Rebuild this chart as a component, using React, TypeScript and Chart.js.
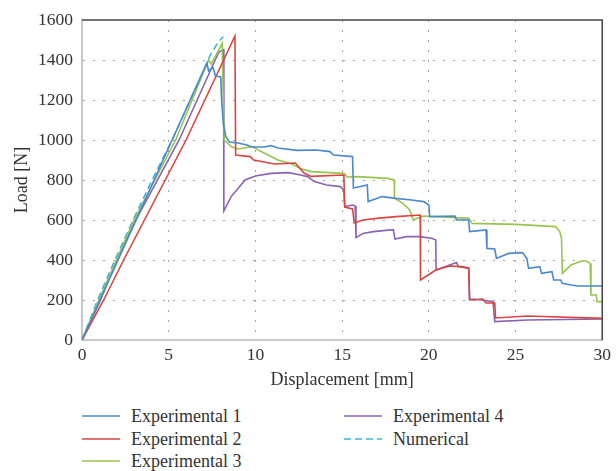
import React, { useEffect, useRef } from "react";
import { Chart, registerables } from "chart.js";

Chart.register(...registerables);

const FONT = "'Liberation Serif', 'Times New Roman', serif";

const seriesNames = ["Experimental 1", "Experimental 2", "Experimental 3", "Experimental 4", "Numerical"];
const seriesColors = ["#4a89cc", "#d9463f", "#98c44f", "#8b63b3", "#3db5d8"];
const xTicks = [0, 5, 10, 15, 20, 25, 30];
const yTicks = [0, 200, 400, 600, 800, 1000, 1200, 1400, 1600];
const xTitle = "Displacement [mm]";
const yTitle = "Load [N]";

const exp1Disp = [0, 7.2, 7.3, 7.55, 7.7, 8.0, 8.05, 8.15, 8.3, 8.5, 9.0, 9.5, 9.8, 10.5, 10.9, 11.3, 12.4, 13.5, 14.3, 14.5, 15.6, 15.65, 16.45, 16.5, 17.3, 18.1, 19.0, 19.7, 20.0, 20.05, 21.5, 21.6, 22.3, 22.35, 23.3, 23.35, 23.8, 23.9, 24.6, 25.4, 25.65, 25.75, 26.4, 26.5, 27.1, 27.2, 27.6, 27.7, 28.2, 28.6, 30];
const exp1Load = [0, 1385, 1345, 1362, 1320, 1315, 1200, 1080, 1015, 990, 985, 975, 965, 965, 972, 960, 948, 950, 942, 925, 917, 760, 775, 692, 717, 708, 700, 692, 675, 617, 620, 600, 600, 542, 550, 458, 455, 408, 433, 437, 408, 358, 367, 333, 342, 300, 300, 283, 275, 270, 270];

const exp2Disp = [0, 1.25, 2.4, 3.6, 6.0, 8.82, 8.86, 9.7, 9.9, 10.5, 11.1, 12.3, 12.5, 12.8, 13.2, 15.1, 15.15, 15.6, 15.7, 16.2, 17.0, 18.1, 19.5, 19.52, 20.4, 21.2, 21.9, 22.3, 22.35, 23.1, 23.3, 23.8, 23.85, 25.7, 30];
const exp2Load = [0, 200, 400, 600, 1000, 1520, 925, 917, 900, 890, 880, 885, 865, 835, 818, 825, 665, 655, 585, 600, 608, 617, 625, 300, 350, 370, 367, 360, 200, 205, 185, 185, 110, 120, 108];

const exp3Disp = [0, 1.0, 3.0, 5.4, 7.3, 7.45, 8.08, 8.2, 8.6, 9.0, 9.8, 10.5, 11.3, 12.0, 12.6, 13.2, 15.1, 15.3, 15.9, 17.6, 18.0, 18.02, 18.5, 18.9, 19.1, 19.3, 19.7, 22.3, 22.5, 25.0, 27.3, 27.55, 27.65, 27.7, 28.2, 28.8, 29.1, 29.3, 29.35, 29.65, 29.7, 30];
const exp3Load = [0, 205, 600, 1000, 1400, 1380, 1483, 1000, 967, 955, 967, 935, 900, 883, 858, 842, 833, 815, 817, 808, 800, 710, 683, 650, 600, 608, 620, 608, 583, 578, 567, 542, 508, 333, 375, 395, 395, 383, 225, 225, 192, 192];

const exp4Disp = [0, 1.07, 2.0, 3.1, 5.6, 7.68, 7.9, 8.16, 8.18, 8.6, 9.0, 9.4, 10.0, 10.9, 11.9, 12.6, 13.0, 13.4, 14.1, 14.9, 15.1, 15.15, 15.6, 15.75, 15.8, 16.2, 16.8, 17.95, 18.05, 18.7, 19.5, 20.2, 20.4, 20.42, 21.2, 21.6, 21.7, 22.3, 22.35, 23.1, 23.7, 23.8, 25.7, 30];
const exp4Load = [0, 200, 400, 600, 1000, 1400, 1440, 1452, 645, 717, 758, 800, 820, 833, 837, 825, 817, 792, 775, 767, 750, 667, 675, 670, 512, 533, 542, 552, 505, 517, 517, 508, 500, 350, 375, 387, 367, 358, 205, 200, 192, 92, 100, 105];

const numDisp = [0, 0.9, 1.9, 3.0, 4.1, 5.25, 7.0, 7.4, 7.8, 8.15];
const numLoad = [0, 200, 400, 610, 810, 1010, 1345, 1425, 1482, 1517];

const seriesDisp = [exp1Disp, exp2Disp, exp3Disp, exp4Disp, numDisp];
const seriesLoad = [exp1Load, exp2Load, exp3Load, exp4Load, numLoad];

const framePlugin = {
  id: "frame",
  afterDatasetsDraw(chart: any) {
    const { ctx, chartArea } = chart;
    const { left, top, right, bottom } = chartArea;
    ctx.save();
    ctx.strokeStyle = "#4a4a4a";
    ctx.lineWidth = 1.6;
    ctx.beginPath();
    ctx.moveTo(left, top);
    ctx.lineTo(right, top);
    ctx.lineTo(right, bottom);
    ctx.stroke();
    ctx.restore();
  },
};

export default function App() {
  const ref = useRef<HTMLCanvasElement>(null);

  useEffect(() => {
    const datasets = seriesNames.map((name, i) => ({
      label: name,
      data: seriesDisp[i].map((x, j) => ({ x, y: seriesLoad[i][j] })),
      borderColor: seriesColors[i],
      backgroundColor: seriesColors[i],
      borderWidth: 1.6,
      borderDash: name === "Numerical" ? [7, 4] : [],
      pointRadius: 0,
      tension: 0,
      fill: false,
    }));

    const edgeColor = (vals: number[]) => (c: any) =>
      c.tick && (c.tick.value === vals[0] || c.tick.value === vals[vals.length - 1])
        ? "rgba(0,0,0,0)"
        : "#a3a3a3";

    const chart = new Chart(ref.current as HTMLCanvasElement, {
      type: "line",
      data: { datasets },
      plugins: [framePlugin],
      options: {
        responsive: false,
        animation: false,
        layout: { padding: { top: 20, right: 8, left: 0, bottom: 0 } },
        plugins: { legend: { display: false }, tooltip: { enabled: false } },
        scales: {
          x: {
            type: "linear",
            min: xTicks[0],
            max: xTicks[xTicks.length - 1],
            afterFit: (s: any) => {
              s.height = 55;
            },
            afterBuildTicks: (s: any) => {
              s.ticks = xTicks.map((v) => ({ value: v }));
            },
            ticks: {
              font: { family: FONT, size: 17.5 },
              color: "#333",
              padding: 5,
              maxRotation: 0,
              callback: (v: any) => String(v),
            },
            grid: { color: edgeColor(xTicks), lineWidth: 1, drawTicks: false },
            border: { color: "#c9c9c9", width: 2, dash: [2, 8] },
            title: {
              display: true,
              text: xTitle,
              font: { family: FONT, size: 18 },
              color: "#333",
              padding: { top: 0, bottom: 4 },
            },
          },
          y: {
            type: "linear",
            min: yTicks[0],
            max: yTicks[yTicks.length - 1],
            afterFit: (s: any) => {
              s.width = 82;
            },
            afterBuildTicks: (s: any) => {
              s.ticks = yTicks.map((v) => ({ value: v }));
            },
            ticks: {
              font: { family: FONT, size: 17.5 },
              color: "#333",
              padding: 9,
              callback: (v: any) => String(v),
            },
            grid: { color: edgeColor(yTicks), lineWidth: 1, drawTicks: false },
            border: { color: "#c9c9c9", width: 2, dash: [2, 8] },
            title: {
              display: true,
              text: yTitle,
              font: { family: FONT, size: 18 },
              color: "#333",
              padding: { top: 11, bottom: 0 },
            },
          },
        },
      } as any,
    });
    return () => chart.destroy();
  }, []);

  const colX = [82, 344];
  const rowY = [416, 438.5, 461];

  return (
    <div style={{ position: "fixed", left: 0, top: 0, width: 616, height: 471, background: "#fff", overflow: "hidden" }}>
      <canvas ref={ref} width={616} height={395} style={{ position: "absolute", left: 0, top: 0, width: 616, height: 395 }} />
      {seriesNames.map((name, i) => {
        const cx = colX[Math.floor(i / 3)];
        const cy = rowY[i % 3];
        return (
          <React.Fragment key={name}>
            <svg width={38} height={4} style={{ position: "absolute", left: cx, top: cy - 2 }}>
              <line
                x1={0}
                y1={2}
                x2={38}
                y2={2}
                stroke={seriesColors[i]}
                strokeWidth={1.6}
                strokeDasharray={name === "Numerical" ? "7 4" : undefined}
              />
            </svg>
            <div
              style={{
                position: "absolute",
                left: cx + 49,
                top: cy - 11,
                lineHeight: "22px",
                fontSize: 18,
                fontFamily: FONT,
                color: "#333",
                whiteSpace: "nowrap",
              }}
            >
              {name}
            </div>
          </React.Fragment>
        );
      })}
    </div>
  );
}
